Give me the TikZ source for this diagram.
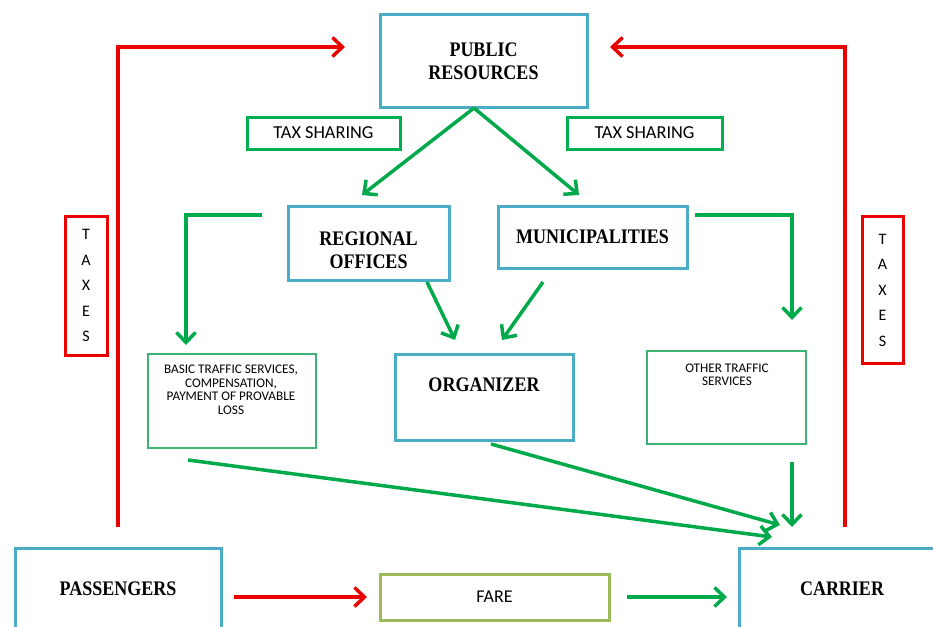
\documentclass[tikz,border=0pt]{standalone}
\usepackage{fontspec}
\usepackage{graphicx}
\setmainfont{Liberation Serif}
\newfontfamily\calib{Carlito}
\usetikzlibrary{arrows.meta}
\definecolor{boxblue}{RGB}{75,172,198}
\definecolor{boxgreen}{RGB}{0,176,80}
\definecolor{thingreen}{RGB}{60,179,113}
\definecolor{arrgreen}{RGB}{0,170,75}
\definecolor{fareolive}{RGB}{155,187,89}
\definecolor{myred}{RGB}{235,0,0}
\newcommand{\tallx}[1]{\scalebox{1}[1.15]{#1}}
\begin{document}
\begin{tikzpicture}[x=1pt,y=-1pt,
  bluebox/.style={draw=boxblue,line width=3pt,inner sep=0pt,outer sep=0pt},
  gbox/.style={draw=boxgreen,line width=3pt,inner sep=0pt,outer sep=0pt,font=\calib\fontsize{18.3}{20}\selectfont},
  thinbox/.style={draw=thingreen,line width=1.2pt,inner sep=0pt,outer sep=0pt},
  redbox/.style={draw=myred,line width=3pt,inner sep=0pt,outer sep=0pt,align=center,font=\calib\fontsize{16}{25.5}\selectfont},
  farebox/.style={draw=fareolive,line width=3pt,inner sep=0pt,outer sep=0pt,font=\calib\fontsize{18}{20}\selectfont},
  bigtxt/.style={align=center,inner sep=0pt,font=\bfseries\fontsize{18}{23.5}\selectfont},
  smalltxt/.style={align=center,inner sep=0pt,font=\calib\fontsize{13.2}{13.5}\selectfont},
  redarr/.style={draw=myred,line width=3.5pt,-{Straight Barb[length=10pt,width=19pt]}},
  grarr/.style={draw=arrgreen,line width=3.5pt,-{Straight Barb[length=10pt,width=19pt]}}
]
\useasboundingbox (0,0) rectangle (933,626);
\clip (0,0) rectangle (933,626);
\fill[white] (0,0) rectangle (933,626);

% boxes
\node[bluebox,minimum width=207,minimum height=92,bigtxt] (pr) at (483.5,61) {\tallx{PUBLIC}\\\tallx{RESOURCES}};
\node[gbox,minimum width=153,minimum height=32] (ts1) at (323.5,133) {TAX SHARING};
\node[gbox,minimum width=155,minimum height=32] (ts2) at (644.5,133) {TAX SHARING};
\node[bluebox,minimum width=161,minimum height=74] (ro) at (368.5,243) {};
\node[bigtxt] (rot) at (368.5,250) {\tallx{REGIONAL}\\\tallx{OFFICES}};
\node[bluebox,minimum width=189,minimum height=62,bigtxt] (mu) at (592.5,237) {\tallx{MUNICIPALITIES}};
\node[bluebox,minimum width=178,minimum height=86] (org) at (484,397) {};
\node[bigtxt] (orgt) at (484,385) {\tallx{ORGANIZER}};
\node[thinbox,minimum width=168,minimum height=94] (basic) at (232,401) {};
\node[smalltxt] (basict) at (231,390) {BASIC TRAFFIC SERVICES,\\COMPENSATION,\\PAYMENT OF PROVABLE\\LOSS};
\node[thinbox,minimum width=159,minimum height=93] (other) at (726.5,397.5) {};
\node[smalltxt] (othert) at (727,375) {OTHER TRAFFIC\\SERVICES};
\node[redbox,minimum width=42,minimum height=139] (taxl) at (86,285.5) {T\\A\\X\\E\\S};
\node[redbox,minimum width=41,minimum height=147] (taxr) at (882.5,290) {T\\A\\X\\E\\S};
\node[bluebox,minimum width=206,minimum height=112] (pass) at (118,604) {};
\node[bigtxt] (passt) at (118,589) {\tallx{PASSENGERS}};
\node[bluebox,minimum width=221,minimum height=112] (carr) at (849.5,604) {};
\node[bigtxt] (carrt) at (842,589) {\tallx{CARRIER}};
\node[farebox,minimum width=229,minimum height=46] (fare) at (494.5,597) {FARE};

% coordinates for connector ends
\coordinate (rl0) at (118,527);
\coordinate (rl1) at (345,47);
\coordinate (rr0) at (845,527);
\coordinate (rr1) at (610,47);
\coordinate (prs) at (474,108);
\coordinate (roin) at (362,195);
\coordinate (muin) at (579,195);
\coordinate (gl0) at (262,215);
\coordinate (gl1) at (186,345);
\coordinate (gr0) at (695,215);
\coordinate (gr1) at (792,320);
\coordinate (ros) at (427,282);
\coordinate (mus) at (543,282);
\coordinate (orgin1) at (455,340);
\coordinate (orgin2) at (502,340);
\coordinate (bs) at (188,460);
\coordinate (os) at (491,444);
\coordinate (ots) at (792,462);
\coordinate (c1) at (772,537);
\coordinate (c2) at (780,525);
\coordinate (c3) at (792,527);
\coordinate (p0) at (234,597);
\coordinate (p1) at (367,597);
\coordinate (f0) at (627,597);
\coordinate (f1) at (727,597);

% connectors
\draw[redarr] (rl0) |- (rl1);
\draw[redarr] (rr0) |- (rr1);
\draw[grarr] (prs) -- (roin);
\draw[grarr] (prs) -- (muin);
\draw[grarr] (gl0) -| (gl1);
\draw[grarr] (gr0) -| (gr1);
\draw[grarr] (ros) -- (orgin1);
\draw[grarr] (mus) -- (orgin2);
\draw[grarr] (bs) -- (c1);
\draw[grarr] (os) -- (c2);
\draw[grarr] (ots) -- (c3);
\draw[redarr] (p0) -- (p1);
\draw[grarr] (f0) -- (f1);
\end{tikzpicture}
\end{document}
